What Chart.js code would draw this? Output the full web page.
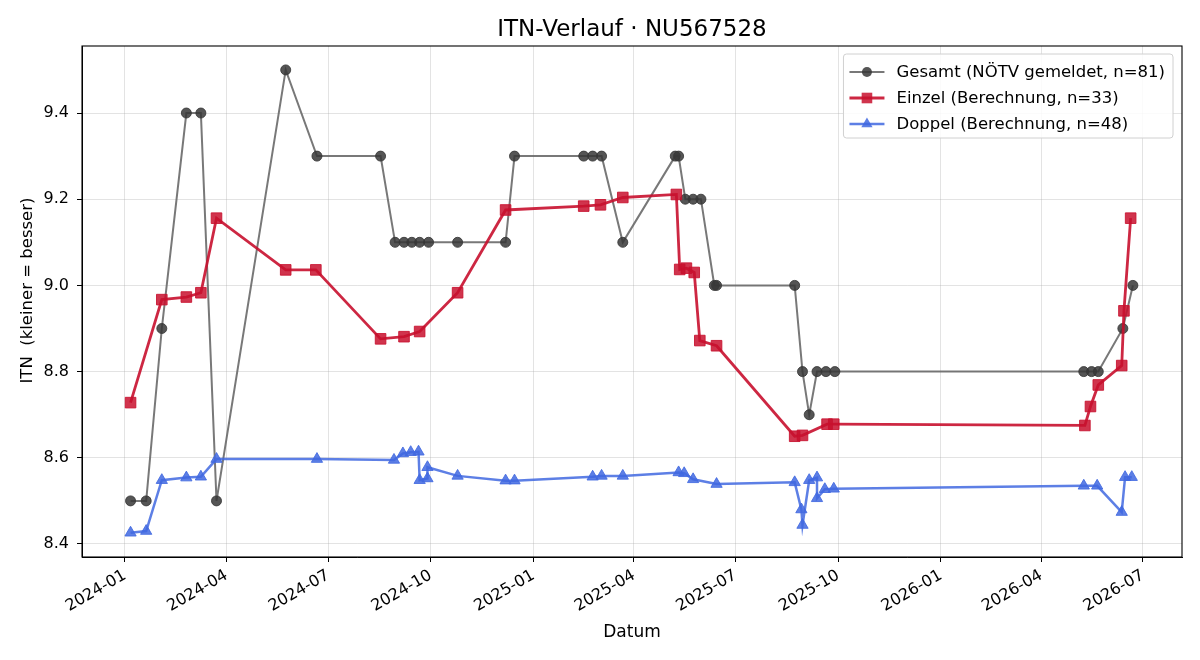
<!DOCTYPE html>
<html lang="de">
<head>
<meta charset="UTF-8">
<title>ITN-Verlauf</title>
<script src="https://cdn.jsdelivr.net/npm/chart.js"></script>
<style>
  html, body { margin: 0; padding: 0; background: #fff; }
</style>
</head>
<body>
<canvas id="itnChart" width="1200" height="660"></canvas>

<script>
// Werte (Datum -> ITN)
var gesamtDates = ['2024-01-06', '2024-01-20', '2024-02-03', '2024-02-25', '2024-03-09', '2024-03-23',
    '2024-05-24', '2024-06-21', '2024-08-17', '2024-08-30', '2024-09-07', '2024-09-14', '2024-09-21',
    '2024-09-29', '2024-10-25', '2024-12-07', '2024-12-15', '2025-02-15', '2025-02-23', '2025-03-03',
    '2025-03-22', '2025-05-08', '2025-05-11', '2025-05-17', '2025-05-24', '2025-05-31', '2025-06-12',
    '2025-06-14', '2025-08-23', '2025-08-30', '2025-09-05', '2025-09-12', '2025-09-20', '2025-09-28',
    '2026-05-09', '2026-05-16', '2026-05-22', '2026-06-13', '2026-06-22'];
var gesamtValues = [8.5, 8.5, 8.9, 9.4, 9.4, 8.5,
    9.5, 9.3, 9.3, 9.1, 9.1, 9.1, 9.1,
    9.1, 9.1, 9.1, 9.3, 9.3, 9.3, 9.3,
    9.1, 9.3, 9.3, 9.2, 9.2, 9.2, 9.0,
    9.0, 9.0, 8.8, 8.7, 8.8, 8.8, 8.8,
    8.8, 8.8, 8.8, 8.9, 9.0];

var einzelDates = ['2024-01-06', '2024-02-03', '2024-02-25', '2024-03-09', '2024-03-23', '2024-05-24',
    '2024-06-20', '2024-08-17', '2024-09-07', '2024-09-21', '2024-10-25', '2024-12-07', '2025-02-15',
    '2025-03-02', '2025-03-22', '2025-05-09', '2025-05-12', '2025-05-18', '2025-05-25', '2025-05-30',
    '2025-06-14', '2025-08-23', '2025-08-30', '2025-09-21', '2025-09-27', '2026-05-10', '2026-05-15',
    '2026-05-22', '2026-06-12', '2026-06-14', '2026-06-20'];
var einzelValues = [8.728, 8.967, 8.973, 8.983, 9.156, 9.036,
    9.036, 8.876, 8.881, 8.893, 8.983, 9.175, 9.184,
    9.187, 9.204, 9.211, 9.037, 9.040, 9.030, 8.872,
    8.860, 8.650, 8.652, 8.678, 8.678, 8.675, 8.719,
    8.769, 8.814, 8.941, 9.156];

var doppelDates = ['2024-01-06', '2024-01-20', '2024-02-03', '2024-02-25', '2024-03-09', '2024-03-23',
    '2024-06-21', '2024-08-29', '2024-09-06', '2024-09-13', '2024-09-20', '2024-09-21', '2024-09-28',
    '2024-09-28', '2024-10-25', '2024-12-07', '2024-12-15', '2025-02-23', '2025-03-03', '2025-03-22',
    '2025-05-11', '2025-05-16', '2025-05-24', '2025-06-14', '2025-08-23', '2025-08-29', '2025-08-30',
    '2025-09-05', '2025-09-12', '2025-09-12', '2025-09-19', '2025-09-27', '2026-05-09', '2026-05-21',
    '2026-06-12', '2026-06-15', '2026-06-21'];
var doppelValues = [8.426, 8.430, 8.548, 8.554, 8.556, 8.597,
    8.597, 8.595, 8.610, 8.613, 8.614, 8.548, 8.552,
    8.578, 8.558, 8.547, 8.547, 8.556, 8.558, 8.558,
    8.566, 8.564, 8.550, 8.539, 8.543, 8.480, 8.444,
    8.548, 8.554, 8.506, 8.527, 8.528, 8.535, 8.535,
    8.474, 8.555, 8.555];

var tickDates = ['2024-01-01', '2024-04-01', '2024-07-01', '2024-10-01', '2025-01-01', '2025-04-01',
    '2025-07-01', '2025-10-01', '2026-01-01', '2026-04-01', '2026-07-01'];
var tickLabels = ['2024-01', '2024-04', '2024-07', '2024-10', '2025-01', '2025-04',
    '2025-07', '2025-10', '2026-01', '2026-04', '2026-07'];
var yTicks = [8.4, 8.6, 8.8, 9.0, 9.2, 9.4];

var chartTitle = 'ITN-Verlauf · NU567528';
var yTitle = 'ITN  (kleiner = besser)';

// Tage seit 2024-01-01 (lineare x-Achse, kein Datumsadapter noetig)
var day0 = Date.parse('2024-01-01');
function toDay(s) { return (Date.parse(s) - day0) / 86400000; }
function points(dates, values) {
    return dates.map(function (d, i) { return { x: toDay(d), y: values[i] }; });
}

var FONT = '"DejaVu Sans", sans-serif';

// Rahmen rund um die Plotflaeche
var framePlugin = {
    id: 'frame',
    afterDatasetsDraw: function (chart) {
        var a = chart.chartArea, ctx = chart.ctx;
        ctx.save();
        ctx.strokeStyle = '#000';
        ctx.lineWidth = 1.1;
        ctx.strokeRect(a.left, a.top, a.right - a.left, a.bottom - a.top);
        ctx.restore();
    }
};

// Titel und y-Beschriftung wie bei matplotlib ueber der Achse zentriert
var textPlugin = {
    id: 'axesText',
    afterDraw: function (chart) {
        var ctx = chart.ctx, a = chart.chartArea;
        ctx.save();
        ctx.fillStyle = '#000';
        ctx.textAlign = 'center';
        ctx.textBaseline = 'alphabetic';
        ctx.font = '23px ' + FONT;
        ctx.fillText(chartTitle, (a.left + a.right) / 2, 36);
        ctx.font = '16.5px ' + FONT;
        ctx.translate(32, 290.5);
        ctx.rotate(-Math.PI / 2);
        ctx.fillText(yTitle, 0, 0);
        ctx.restore();
    }
};

function drawMarker(ctx, style, r, x, y) {
    ctx.beginPath();
    if (style === 'circle') {
        ctx.arc(x, y, r, 0, Math.PI * 2);
    } else if (style === 'rect') {
        var s = r * Math.SQRT1_2;
        ctx.rect(x - s, y - s, 2 * s, 2 * s);
    } else {
        ctx.moveTo(x, y - r);
        ctx.lineTo(x + r * 0.866, y + r * 0.5);
        ctx.lineTo(x - r * 0.866, y + r * 0.5);
        ctx.closePath();
    }
    ctx.fill();
}

// Legende oben rechts in der Plotflaeche
var legendPlugin = {
    id: 'boxLegend',
    afterDraw: function (chart) {
        var ctx = chart.ctx, a = chart.chartArea;
        var sets = chart.data.datasets;
        ctx.save();
        ctx.font = '16.5px ' + FONT;
        var textW = 0;
        sets.forEach(function (d) { textW = Math.max(textW, ctx.measureText(d.label).width); });
        var right = a.right - 9, top = a.top + 8;
        var left = right - (6 + 35 + 12 + textW + 8);
        var h = 84;
        ctx.fillStyle = 'rgba(255,255,255,0.85)';
        ctx.strokeStyle = '#d0d0d0';
        ctx.lineWidth = 1;
        ctx.beginPath();
        ctx.roundRect(left, top, right - left, h, 3);
        ctx.fill();
        ctx.stroke();
        sets.forEach(function (d, i) {
            var y = top + 18 + i * 26;
            ctx.strokeStyle = d.borderColor;
            ctx.lineWidth = d.borderWidth;
            ctx.beginPath();
            ctx.moveTo(left + 6, y);
            ctx.lineTo(left + 41, y);
            ctx.stroke();
            ctx.fillStyle = d.pointBackgroundColor;
            drawMarker(ctx, d.pointStyle, d.pointRadius, left + 23.5, y);
            ctx.fillStyle = '#000';
            ctx.textBaseline = 'middle';
            ctx.fillText(d.label, left + 53, y + 1);
        });
        ctx.restore();
    }
};

var ctx = document.getElementById('itnChart').getContext('2d');
var chart = new Chart(ctx, {
    type: 'line',
    data: {
        datasets: [{
            label: 'Gesamt (NÖTV gemeldet, n=81)',
            data: points(gesamtDates, gesamtValues),
            borderColor: 'rgba(105,105,105,0.9)',
            borderWidth: 2,
            pointStyle: 'circle',
            pointRadius: 5,
            pointBackgroundColor: 'rgba(55,55,55,0.85)',
            pointBorderColor: 'rgba(55,55,55,0.85)',
            pointBorderWidth: 1,
            order: 3
        }, {
            label: 'Einzel (Berechnung, n=33)',
            data: points(einzelDates, einzelValues),
            borderColor: 'rgba(200,16,46,0.9)',
            borderWidth: 2.8,
            pointStyle: 'rect',
            pointRadius: 7.5,
            pointBackgroundColor: 'rgba(200,16,46,0.85)',
            pointBorderColor: 'rgba(200,16,46,0.85)',
            pointBorderWidth: 1,
            order: 2
        }, {
            label: 'Doppel (Berechnung, n=48)',
            data: points(doppelDates, doppelValues),
            borderColor: 'rgba(65,105,225,0.85)',
            borderWidth: 2.5,
            pointStyle: 'triangle',
            pointRadius: 6.5,
            pointBackgroundColor: 'rgba(65,105,225,0.85)',
            pointBorderColor: 'rgba(65,105,225,0.85)',
            pointBorderWidth: 1,
            order: 1
        }]
    },
    options: {
        responsive: false,
        animation: false,
        events: [],
        layout: { padding: { left: 0, right: 18, top: 46, bottom: 0 } },
        plugins: {
            legend: { display: false },
            tooltip: { enabled: false },
            title: { display: false }
        },
        scales: {
            x: {
                type: 'linear',
                min: -38.5,
                max: 947,
                afterBuildTicks: function (scale) {
                    scale.ticks = tickDates.map(function (d) { return { value: toDay(d) }; });
                },
                afterFit: function (scale) { scale.height = 103; },
                ticks: {
                    color: '#000',
                    font: { family: FONT, size: 16 },
                    maxRotation: 30,
                    minRotation: 30,
                    padding: 4,
                    autoSkip: false,
                    callback: function (v, i) { return tickLabels[i]; }
                },
                grid: {
                    color: 'rgba(176,176,176,0.35)',
                    lineWidth: 1,
                    tickColor: '#000',
                    tickLength: 5
                },
                border: { color: '#000', width: 1 },
                title: {
                    display: true,
                    text: 'Datum',
                    color: '#000',
                    font: { family: FONT, size: 17 },
                    padding: { top: 0, bottom: 17 }
                }
            },
            y: {
                min: 8.3698,
                max: 9.5555,
                afterBuildTicks: function (scale) {
                    scale.ticks = yTicks.map(function (v) { return { value: v }; });
                },
                afterFit: function (scale) { scale.width = 82; },
                ticks: {
                    color: '#000',
                    font: { family: FONT, size: 16 },
                    padding: 8,
                    callback: function (v) { return v.toFixed(1); }
                },
                grid: {
                    color: 'rgba(176,176,176,0.35)',
                    lineWidth: 1,
                    tickColor: '#000',
                    tickLength: 5
                },
                border: { color: '#000', width: 1 }
            }
        },
        elements: { line: { tension: 0 } }
    },
    plugins: [framePlugin, textPlugin, legendPlugin]
});
</script>
</body>
</html>
